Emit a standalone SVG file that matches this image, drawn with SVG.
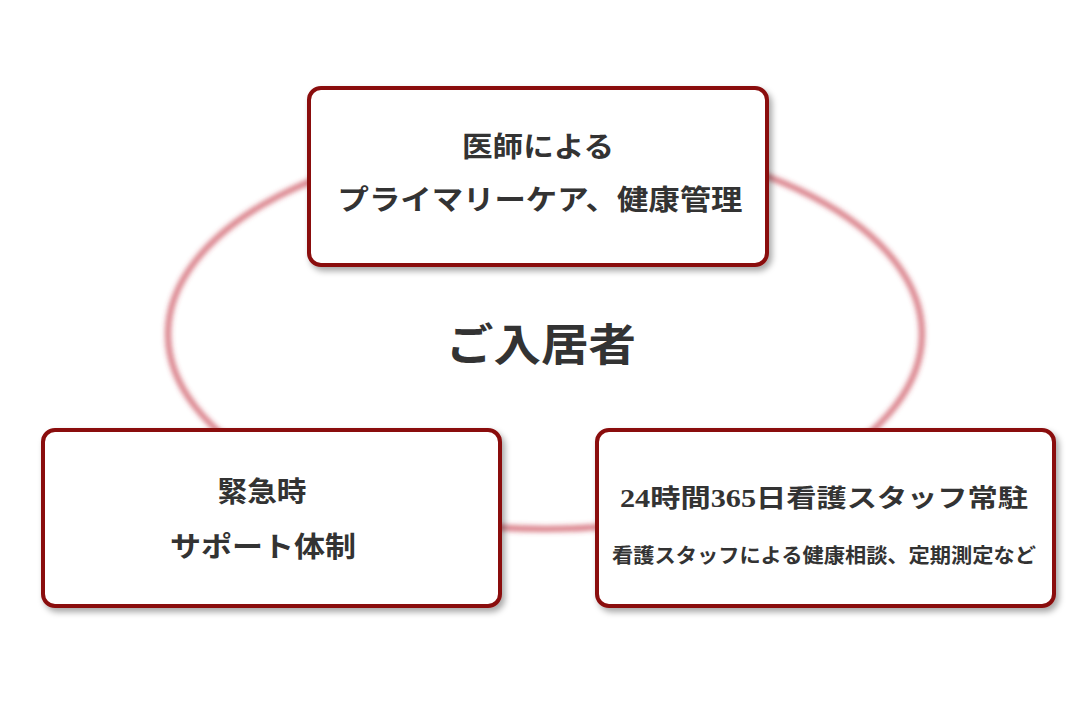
<svg xmlns="http://www.w3.org/2000/svg" width="1092" height="728" viewBox="0 0 1092 728">
<style>
.box{fill:#fff;stroke:#8a1010;stroke-width:4}
.t{font-family:"Liberation Serif","Noto Sans CJK JP",serif;fill:#333;font-weight:bold;text-anchor:middle}
.l{font-size:28px}
.s{font-size:20px}
</style>
<defs>
<filter id="glow" x="-10%" y="-10%" width="120%" height="120%"><feGaussianBlur stdDeviation="2.5"/></filter>
<filter id="sh" x="-5%" y="-5%" width="115%" height="120%"><feDropShadow dx="3" dy="4" stdDeviation="3" flood-color="#000" flood-opacity="0.35"/></filter>
</defs>
<rect width="1092" height="728" fill="#fff"/>
<g id="connectors">
<ellipse cx="545" cy="334" rx="377" ry="195" fill="none" stroke="#c43c48" stroke-width="6" stroke-opacity="0.65" filter="url(#glow)"/>
</g>
<g id="center">
<text class="t" x="541" y="361" font-size="44" textLength="190" lengthAdjust="spacingAndGlyphs">ご入居者</text>
</g>
<g id="top">
<rect class="box" x="309" y="88" width="458" height="177" rx="12" filter="url(#sh)"/>
<text class="t l" x="538" y="157" textLength="152" lengthAdjust="spacingAndGlyphs">医師による</text>
<text class="t l" x="540" y="210" textLength="405" lengthAdjust="spacingAndGlyphs">プライマリーケア、健康管理</text>
</g>
<g id="left">
<rect class="box" x="43" y="430" width="457" height="176" rx="12" filter="url(#sh)"/>
<text class="t l" x="262" y="502" textLength="89" lengthAdjust="spacingAndGlyphs">緊急時</text>
<text class="t l" x="263" y="557" textLength="186" lengthAdjust="spacingAndGlyphs">サポート体制</text>
</g>
<g id="right">
<rect class="box" x="597" y="430" width="457" height="176" rx="12" filter="url(#sh)"/>
<text class="t" x="824" y="507" font-size="25" textLength="408" lengthAdjust="spacingAndGlyphs">24時間365日看護スタッフ常駐</text>
<text class="t s" x="824" y="563" textLength="424" lengthAdjust="spacingAndGlyphs">看護スタッフによる健康相談、定期測定など</text>
</g>
</svg>
